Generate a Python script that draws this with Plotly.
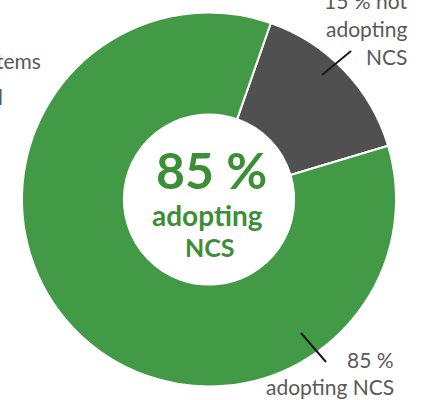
import plotly.graph_objects as go

labels = ["15 % not adopting NCS", "85 % adopting NCS"]
values = [15, 85]
colors = ["#505050", "#439A46"]

W, H = 425, 400
cx, cy, r = 209, 199.5, 187

def px(x):
    return x / W

def py(y):
    return 1 - y / H

fig = go.Figure(go.Pie(
    labels=labels, values=values, sort=False, direction="clockwise",
    rotation=19.3, hole=0.455, textinfo="none", hoverinfo="label",
    marker=dict(colors=colors, line=dict(color="white", width=2)),
    domain=dict(x=[px(cx - r), px(cx + r)], y=[py(cy + r), py(cy - r)]),
    showlegend=False,
))

FONT = "Lato"
GREEN_T = "#3C8E37"
GRAY_T = "#595959"

ann = []
def add(text, x, y, size, color, bold=False, xanchor="center", yanchor="middle"):
    ann.append(dict(text=f"<b>{text}</b>" if bold else text, x=px(x), y=py(y),
                    xref="paper", yref="paper", showarrow=False,
                    xanchor=xanchor, yanchor=yanchor,
                    font=dict(family=FONT, size=size, color=color)))

# centre text
add("85 %", 211, 170, 50, GREEN_T, bold=True)
add("adopting", 207, 215, 28, GREEN_T, bold=True)
add("NCS", 210, 247, 25, GREEN_T, bold=True)

# slice labels
add("15 % not", 409, 0, 21, GRAY_T, xanchor="right")
add("adopting", 409, 28, 21, GRAY_T, xanchor="right")
add("NCS", 409, 57, 21, GRAY_T, xanchor="right")
add("85 %", 396, 359, 21, GRAY_T, xanchor="right")
add("adopting NCS", 396, 386, 21, GRAY_T, xanchor="right")

# cut-off left text
add("tems", 43, 60, 21, GRAY_T, xanchor="right")
add("l", 5, 96, 21, GRAY_T, xanchor="right")

shapes = [
    dict(type="line", xref="paper", yref="paper", x0=px(322), y0=py(75), x1=px(351), y1=py(51),
         line=dict(color="#1a1a1a", width=2)),
    dict(type="line", xref="paper", yref="paper", x0=px(301), y0=py(333), x1=px(326), y1=py(362),
         line=dict(color="#1a1a1a", width=2)),
]

fig.update_layout(width=W, height=H, margin=dict(l=0, r=0, t=0, b=0),
                  paper_bgcolor="white", plot_bgcolor="white",
                  annotations=ann, shapes=shapes)
fig.write_html("out.html", config={"displayModeBar": False},
               post_script="document.body.style.margin='0px';document.body.style.overflow='hidden';")
